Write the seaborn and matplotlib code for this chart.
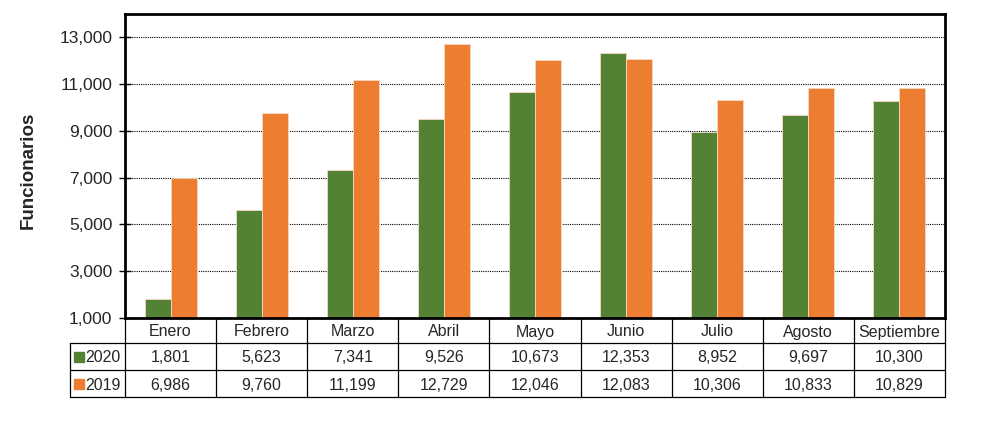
import matplotlib
matplotlib.use("Agg")
import matplotlib.pyplot as plt
import matplotlib.transforms as mtransforms
from matplotlib.ticker import FuncFormatter
import pandas as pd
import seaborn as sns

months = ["Enero", "Febrero", "Marzo", "Abril", "Mayo", "Junio", "Julio", "Agosto", "Septiembre"]
v2020 = [1801, 5623, 7341, 9526, 10673, 12353, 8952, 9697, 10300]
v2019 = [6986, 9760, 11199, 12729, 12046, 12083, 10306, 10833, 10829]
series = ["2020", "2019"]
colors = {"2020": "#548235", "2019": "#ED7D31"}
yticks = [1000, 3000, 5000, 7000, 9000, 11000, 13000]

sns.set_theme(style="white")
plt.rcParams["font.family"] = ["Liberation Sans", "DejaVu Sans"]

df = pd.DataFrame({
    "mes": months * 2,
    "valor": v2020 + v2019,
    "serie": ["2020"] * len(months) + ["2019"] * len(months),
})

fig = plt.figure(figsize=(10.02, 4.28), dpi=100)
ax = fig.add_axes([125 / 1002, 1 - 318 / 428, 820 / 1002, 304 / 428])

sns.barplot(data=df, x="mes", y="valor", hue="serie", order=months, hue_order=series,
            palette=colors, width=0.57, saturation=1, ax=ax, legend=False,
            edgecolor="#f6d9c4", linewidth=0.6)

ax.set_xlim(-0.5, len(months) - 0.5)
ax.set_ylim(1000, 14000)
ax.set_yticks(yticks)
ax.yaxis.set_major_formatter(FuncFormatter(lambda v, p: f"{int(v):,}"))
ax.tick_params(axis="y", labelsize=12.5, length=8, width=1, color="black", direction="inout", pad=5, left=True)
ax.tick_params(axis="x", bottom=False, labelbottom=False)
ax.set_xlabel("")
ax.set_ylabel("")
ax.yaxis.grid(True, linestyle=(0, (1, 1)), color="black", linewidth=0.8)
ax.set_axisbelow(True)
for s in ax.spines.values():
    s.set_visible(True)
    s.set_color("black")
    s.set_linewidth(2)

fig.text(28 / 1002, 1 - 170 / 428, "Funcionarios", rotation=90, fontsize=13.5,
         fontweight="bold", ha="center", va="center")

# data table below the axes
tr = mtransforms.blended_transform_factory(ax.transData, ax.transAxes)
n = len(months)
row_y = [0.0, -25 / 304, -52 / 304, -79 / 304]
leg_left = -0.5 - 55 / (820 / n)
lkw = dict(transform=tr, clip_on=False, color="black", linewidth=0.9)
for k in range(n + 1):
    ax.plot([k - 0.5, k - 0.5], [row_y[0], row_y[3]], **lkw)
ax.plot([leg_left, leg_left], [row_y[1], row_y[3]], **lkw)
for yy in row_y[1:]:
    ax.plot([leg_left, n - 0.5], [yy, yy], **lkw)

fs = 11.5
tkw = dict(transform=tr, ha="center", va="center_baseline", fontsize=fs)
for i, m in enumerate(months):
    ax.text(i, (row_y[0] + row_y[1]) / 2, m, **tkw)
    ax.text(i, (row_y[1] + row_y[2]) / 2, f"{v2020[i]:,}", **tkw)
    ax.text(i, (row_y[2] + row_y[3]) / 2, f"{v2019[i]:,}", **tkw)

for r, s in enumerate(series):
    yc = (row_y[r + 1] + row_y[r + 2]) / 2
    ax.plot([leg_left + 0.1], [yc], marker="s", markersize=6.5, color=colors[s],
            transform=tr, clip_on=False, linestyle="none")
    ax.text(leg_left + 0.17, yc, s, transform=tr, ha="left", va="center_baseline", fontsize=fs)

fig.savefig("out.png", dpi=100)
